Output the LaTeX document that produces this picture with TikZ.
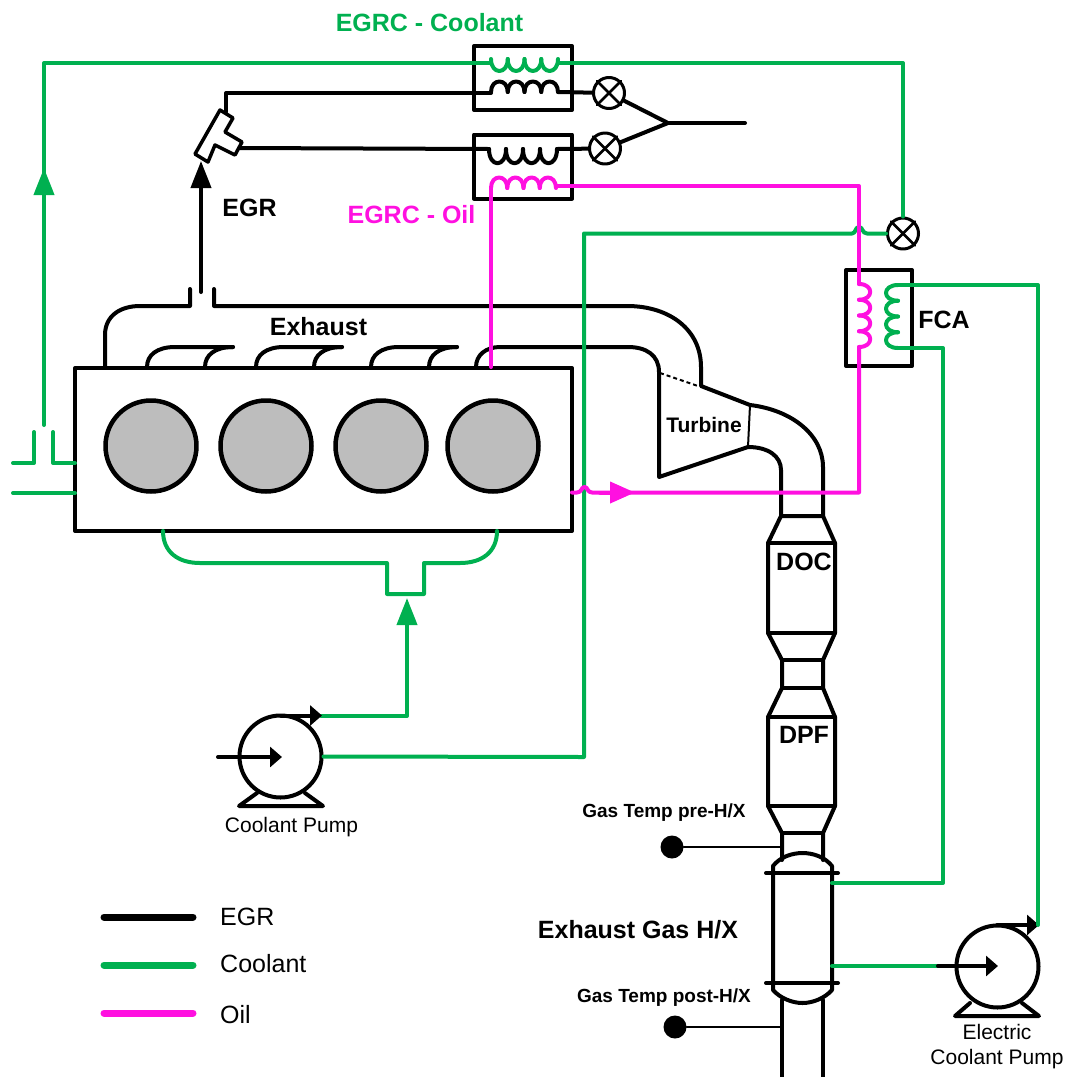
\documentclass[tikz,border=0pt]{standalone}
\usepackage{fontspec}
\setmainfont{Liberation Sans}
\usetikzlibrary{arrows.meta}
\definecolor{coolant}{HTML}{00B050}
\definecolor{oil}{HTML}{FF10E0}
\definecolor{cylgray}{HTML}{BDBDBD}
\newcommand{\hxcoil}[7]{\foreach \i in {0,...,3} {\draw[#1] ({#2+\i*#4},{#3+\i*#5}) .. controls +(#6,#7) and +(#6,#7) .. ({#2+(\i+1)*#4},{#3+(\i+1)*#5});}}
\tikzset{
  pipe/.style={line width=4pt},
  gasline/.style={pipe,black},
  coolline/.style={pipe,coolant},
  oilline/.style={pipe,oil},
  bigtip/.style={-{Triangle[length=27pt,width=20pt]}},
  smalltip/.style={-{Triangle[length=12pt,width=20pt]}},
  hxbox/.style={draw,pipe,rectangle,inner sep=0pt},
  cylnode/.style={draw,line width=4.5pt,circle,fill=cylgray,minimum size=91pt,inner sep=0pt},
  valve/.style={draw,line width=3pt,circle,minimum size=31pt,inner sep=0pt},
  pump/.style={draw,pipe,circle,minimum size=82pt,inner sep=0pt},
  sensor/.style={circle,fill=black,minimum size=23pt,inner sep=0pt},
  boldlabel/.style={inner sep=0pt,font=\fontsize{25}{25}\selectfont\bfseries},
  smalllabel/.style={inner sep=0pt,font=\fontsize{21}{21}\selectfont\bfseries},
  templabel/.style={inner sep=0pt,font=\fontsize{19}{19}\selectfont\bfseries},
  pumplabel/.style={inner sep=0pt,align=center,font=\fontsize{21}{25}\selectfont},
  keylabel/.style={inner sep=0pt,anchor=west,font=\fontsize{25}{25}\selectfont}
}
\begin{document}
\begin{tikzpicture}[x=1pt,y=-1pt,line cap=round,line join=round]
  \useasboundingbox (0,0) rectangle (1073,1077);

  \node[hxbox,minimum width=497pt,minimum height=163pt] (block) at (323.5,449.5) {};
  \foreach \n/\x in {1/151,2/266,3/381,4/493}
    \node[cylnode] (cyl\n) at (\x,446) {};
  \foreach \x in {147,256,371} {
    \draw[pipe] (\x,367) .. controls (\x,355) and ({\x+10},347) .. ({\x+28},347) -- ({\x+86},347);
    \draw[pipe] ({\x+58},367) .. controls ({\x+58},355) and ({\x+68},347) .. ({\x+86},347);
  }

  \coordinate (manifoldL) at (190,289);
  \coordinate (manifoldR) at (214,289);
  \draw[gasline] (105,367) -- (105,335) .. controls (105,316) and (120,306) .. (140,306) -- (190,306) -- (manifoldL);
  \draw[gasline] (manifoldR) -- (214,306) -- (627,306) .. controls (670,306) and (701,330) .. (701,367) -- (701,386) -- (750,405)
    .. controls (792,410) and (823,435) .. (823,467) -- (823,516);
  \draw[gasline] (476,367) .. controls (476,355) and (486,347) .. (500,347) -- (628,347) .. controls (646,347) and (659,355) .. (659,372)
    -- (659,477) -- (748,447) .. controls (768,447) and (781,456) .. (781,470) -- (781,516);
  \draw[line width=2pt] (750,405) -- (748,447);
  \draw[line width=2pt,line cap=butt,dash pattern=on 4pt off 3pt] (660,373) -- (698,386);

  \draw[gasline] (781,516) -- (823,516) -- (835,543) -- (835,633) -- (823,660) -- (823,688) -- (835,717) -- (835,806) -- (823,833) -- (823,860);
  \draw[gasline] (781,516) -- (768,543) -- (768,633) -- (782,660) -- (782,688) -- (768,717) -- (768,806) -- (782,833) -- (782,860);
  \draw[gasline] (768,543) -- (835,543);
  \draw[gasline] (768,633) -- (835,633);
  \draw[gasline] (782,660) -- (823,660);
  \draw[gasline] (782,688) -- (823,688);
  \draw[gasline] (768,717) -- (835,717);
  \draw[gasline] (768,806) -- (835,806);
  \draw[gasline] (782,833) -- (823,833);

  \draw[gasline] (773,873) -- (773,866) .. controls (780,857) and (792,853) .. (802.5,853) .. controls (813,853) and (825,857) .. (832,866) -- (832,983)
    -- (832,990) .. controls (825,998) and (813,1003) .. (802.5,1003) .. controls (792,1003) and (780,998) .. (773,990) -- (773,873);
  \draw[gasline] (766,873) -- (838,873);
  \draw[gasline] (766,983) -- (838,983);
  \draw[gasline] (782,1000) -- (782,1077);
  \draw[gasline] (823,1000) -- (823,1077);

  \node[sensor] (tempPre) at (672,847) {};
  \node[sensor] (tempPost) at (675,1027) {};
  \coordinate (pipePre) at (782,847);
  \coordinate (pipePost) at (782,1027);
  \draw[line width=2.5pt] (tempPre) -- (pipePre);
  \draw[line width=2.5pt] (tempPost) -- (pipePost);

  \node[hxbox,minimum width=98pt,minimum height=64pt] (egrcCool) at (523,78) {};
  \node[hxbox,minimum width=98pt,minimum height=64pt] (egrcOil) at (523,166.5) {};
  \node[hxbox,minimum width=66pt,minimum height=96pt] (fca) at (879,318) {};
  \node[valve] (valveA) at (609,93) {};
  \node[valve] (valveB) at (605,148.5) {};
  \node[valve] (valveC) at (903,233.5) {};
  \foreach \v in {valveA,valveB,valveC} {
    \draw[line width=2.5pt] (\v.north west) -- (\v.south east);
    \draw[line width=2.5pt] (\v.north east) -- (\v.south west);
  }

  \draw[line width=3.5pt,fill=white] (220,110) -- (233,118) -- (225,132) -- (242,142) -- (235,155) -- (215,145) -- (208,162) -- (195,154) -- cycle;
  \coordinate (teeIn) at (201,161);
  \coordinate (egrRoot) at (201,292);
  \draw[gasline,bigtip] (egrRoot) -- (teeIn);
  \hxcoil{gasline}{491}{92}{16.75}{0}{0}{-14}
  \hxcoil{gasline}{489}{149}{17}{0}{0}{19}
  \draw[gasline] (226,112) -- (226,93) -- (491,93);
  \draw[gasline] (558,92) -- (valveA);
  \draw[gasline] (240,148) -- (489,149);
  \draw[gasline] (557,149) -- (valveB);
  \coordinate (junction) at (668,123);
  \draw[gasline] (valveA) -- (junction);
  \draw[gasline] (valveB) -- (junction);
  \coordinate (intake) at (745,123);
  \draw[gasline] (junction) -- (intake);

  \draw[coolline] (34,432) -- (34,463) -- (13,463);
  \draw[coolline] (53,432) -- (53,463) -- (75,463);
  \draw[coolline] (13,493) -- (75,493);
  \hxcoil{coolline}{491}{59}{16.75}{0}{0}{16}
  \draw[coolline] (44,425) -- (44,63) -- (491,63);
  \draw[coolline,bigtip] (44,300) -- (44,168);
  \draw[coolline] (558,63) -- (903,63) -- (valveC);
  \draw[coolline] (163,531) .. controls (163,552) and (178,563) .. (200,563) -- (387,563) -- (387,594) -- (424,594) -- (424,563) -- (460,563)
    .. controls (482,563) and (497,552) .. (497,531);

  \node[pump] (pumpMain) at (280.5,756.5) {};
  \draw[pipe] (257,793) -- (239,806) -- (323,806) -- (305,793);
  \draw[coolline] (321,716) -- (407,716) -- (407,700);
  \draw[coolline,bigtip] (407,700) -- (407,598);
  \draw[gasline,smalltip] (281,715.5) -- (322,715.5);
  \draw[gasline,smalltip] (218,757) -- (282,757);
  \draw[coolline] (pumpMain.east) -- (584,757) -- (584,233.5) -- (852,233.5) .. controls (856,233.5) and (855,227) .. (859,227)
    .. controls (863,227) and (862,233.5) .. (867,233.5) -- (valveC);

  \node[pump] (pumpElec) at (997.5,966.5) {};
  \draw[pipe] (970,1003) -- (955,1016) -- (1039,1016) -- (1022,1003);
  \draw[coolline] (832,966) -- (938,966);
  \draw[gasline,smalltip] (938,966) -- (998,966);
  \draw[gasline,smalltip] (997,925) -- (1039,925);
  \draw[coolline] (1038,925) -- (1038,285) -- (898,285);
  \draw[coolline] (898,348) -- (943,348) -- (943,883) -- (832,883);
  \hxcoil{coolline}{898}{285}{0}{15.75}{-16}{0}

  \hxcoil{oilline}{491}{188}{16.25}{0}{0}{-14}
  \draw[oilline] (491,367) -- (491,188);
  \draw[oilline] (556,186) -- (859,186) -- (859,284);
  \hxcoil{oilline}{859}{284}{0}{15.75}{15}{0}
  \draw[oilline] (859,347) -- (859,492.5) -- (592,492.5) .. controls (587,492.5) and (588,487) .. (584.5,487) .. controls (581,487) and (582,492.5) .. (577,492.5) -- (572,492.5);
  \draw[oilline,-{Triangle[length=25pt,width=21pt]}] (600,492.5) -- (635,492.5);

  \node[boldlabel,coolant] (lblCool) at (429.5,23) {EGRC - Coolant};
  \node[boldlabel,oil] (lblOil) at (411.5,215) {EGRC - Oil};
  \node[boldlabel] (lblEgr) at (249.5,208) {EGR};
  \node[boldlabel] (lblExh) at (318.5,327) {Exhaust};
  \node[smalllabel] (lblTurb) at (704,425) {Turbine};
  \node[boldlabel] (lblFca) at (944,320) {FCA};
  \node[boldlabel] (lblDoc) at (804,562) {DOC};
  \node[boldlabel] (lblDpf) at (804,735) {DPF};
  \node[templabel] (lblPre) at (664,813) {Gas Temp pre-H/X};
  \node[templabel] (lblPost) at (664,998) {Gas Temp post-H/X};
  \node[boldlabel] (lblHx) at (638,930) {Exhaust Gas H/X};
  \node[pumplabel] (lblPump) at (291.5,827) {Coolant Pump};
  \node[pumplabel] (lblElec) at (997,1046.5) {Electric\\Coolant Pump};

  \foreach \n/\y/\ty/\c/\t in {egr/917/917/black/EGR,cool/965/964/coolant/Coolant,oil/1013/1015/oil/Oil} {
    \coordinate (key\n) at (104,\y);
    \coordinate (keyEnd\n) at (193,\y);
    \draw[\c,line width=7pt] (key\n) -- (keyEnd\n);
    \node[keylabel] (keyText\n) at (220,\ty) {\t};
  }
\end{tikzpicture}
\end{document}
